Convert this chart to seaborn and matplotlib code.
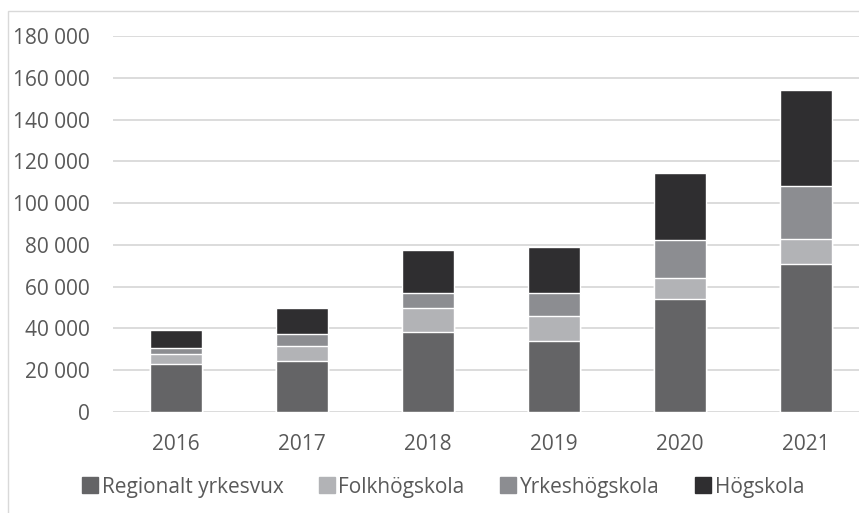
import matplotlib
matplotlib.use('Agg')
import matplotlib.pyplot as plt
import seaborn as sns
from matplotlib.patches import Rectangle
from matplotlib.ticker import FuncFormatter
from pandas import DataFrame as pdDataFrame

years = ['2016', '2017', '2018', '2019', '2020', '2021']
series_names = ['Regionalt yrkesvux', 'Folkhögskola', 'Yrkeshögskola', 'Högskola']
regionalt = [23000, 24500, 38300, 34000, 54100, 70800]
folkhogskola = [4750, 7150, 11450, 11950, 10000, 11900]
yrkeshogskola = [2900, 5750, 7150, 11000, 18150, 25300]
hogskola = [8600, 12400, 20500, 22000, 32400, 46300]
colors = ['#646466', '#b2b3b6', '#8c8d91', '#2f2e30']

sns.set_style('white')
plt.rcParams['font.family'] = ['Open Sans', 'DejaVu Sans']
text_color = '#595959'

df = pdDataFrame({
    'year': years,
    series_names[0]: regionalt,
    series_names[1]: folkhogskola,
    series_names[2]: yrkeshogskola,
    series_names[3]: hogskola,
})
# cumulative tops for stacking
cum = df[series_names].cumsum(axis=1)
cum['year'] = df['year']

fig = plt.figure(figsize=(8.59, 5.13), dpi=100)
ax = fig.add_axes([113 / 859, (513 - 411.7) / 513, 756 / 859, 375.4 / 513])

# tallest first so lower segments paint over it
for name, color in reversed(list(zip(series_names, colors))):
    sns.barplot(data=cum, x='year', y=name, order=years, color=color,
                saturation=1, width=0.405, ax=ax, zorder=3)

ax.set_ylim(0, 180000)
ax.set_xlim(-0.5, 5.5)
ax.set_yticks(range(0, 180001, 20000))
ax.yaxis.set_major_formatter(FuncFormatter(lambda v, p: f'{int(v):,}'.replace(',', ' ')))
ax.yaxis.grid(True, color='#d9d9d9', linewidth=1.3, zorder=0)
ax.set_axisbelow(True)
for s in ax.spines.values():
    s.set_visible(False)
ax.tick_params(axis='y', length=0, pad=17, labelsize=15, labelcolor=text_color)
ax.tick_params(axis='x', length=0, pad=16, labelsize=15, labelcolor=text_color)
ax.set_xlabel('')
ax.set_ylabel('')

handles = [plt.Line2D([], [], marker='s', linestyle='', markersize=11,
                      markerfacecolor=c, markeredgecolor=c) for c in colors]
fig.legend(handles, series_names, loc='center', bbox_to_anchor=(442 / 859, 1 - 487 / 513),
           ncol=4, frameon=False, fontsize=15, labelcolor=text_color,
           handletextpad=0.05, columnspacing=1.6, handlelength=1.0)

fig.patches.append(Rectangle((8 / 859, -0.1), 1.0, 1 - 11 / 513 + 0.1,
                             transform=fig.transFigure, fill=False,
                             edgecolor='#d9d9d9', linewidth=1.0))

fig.savefig('out.png', dpi=100)
plt.close('all')
